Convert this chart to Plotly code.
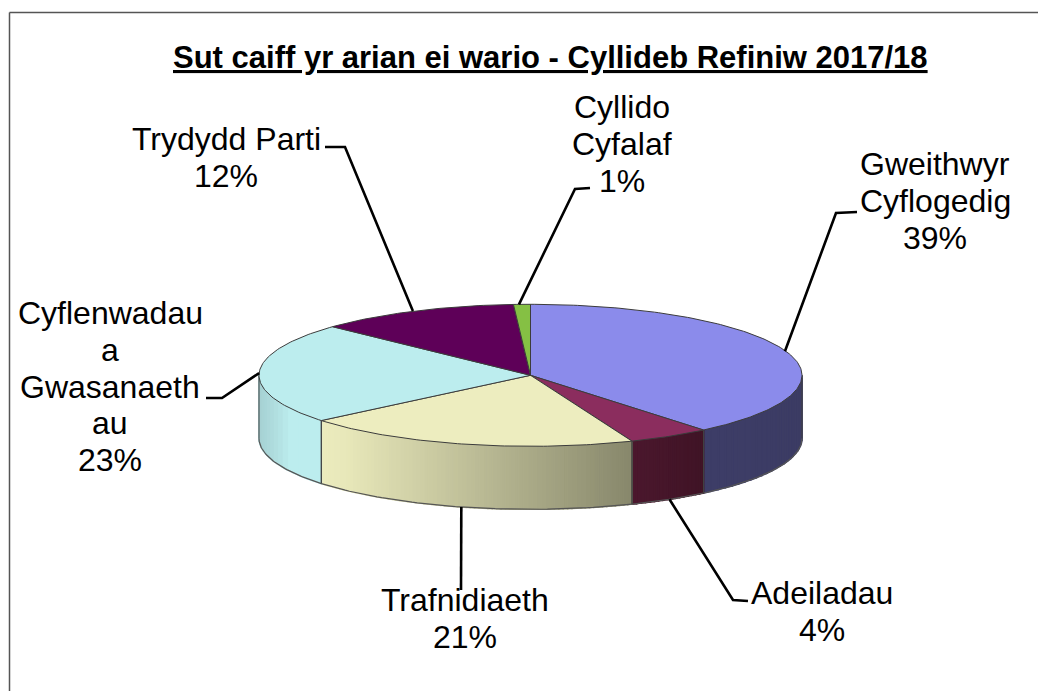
import numpy as np
import plotly.graph_objects as go

# ---- data ----
categories = [["Gweithwyr", "Cyflogedig"], ["Adeiladau"], ["Trafnidiaeth"],
              ["Cyflenwadau", "a", "Gwasanaeth", "au"], ["Trydydd Parti"], ["Cyllido", "Cyfalaf"]]
labels_pct = ["39%", "4%", "21%", "23%", "12%", "1%"]
slice_shares = [39.0, 4.9, 20.1, 23.0, 12.0, 1.0]
title_text = "Sut caiff yr arian ei wario - Cyllideb Refiniw 2017/18"

# ---- styling ----
top_colors = ["#8B8BEB", "#8B2D5E", "#EDEDBF", "#BCEDEE", "#5E0058", "#85C044"]
# side gradient stops: (pixel x, colour)
side_stops = [
    [(703, (62, 62, 104)), (801, (60, 60, 100))],
    [(631, (76, 24, 46)), (703, (64, 20, 38))],
    [(320, (236, 236, 190)), (345, (232, 232, 186)), (631, (136, 136, 108))],
    [(258, (165, 208, 210)), (290, (188, 237, 238)), (320, (188, 237, 238))],
]
CX, CY, RX, RY, DEPTH = 530.5, 375.3, 271.5, 71.0, 63.0
FONT = "Liberation Sans"
LABEL_SIZE = 32
LINE_STEP = 36.8
# label centre x, first line centre y; leader elbow points
label_pos = [(935, 164), (822, 593), (465, 600), (110, 313), (226, 139), (622, 107)]
leader_mid = [[(836, 213), (857, 212)], [(733, 600), (748, 601)], [(461, 590)],
              [(222, 398), (206, 398)], [(345, 147), (325, 147)], [(575, 189), (590, 188)]]
leader_start_dx = [-1, 0, -2.5, 0, -2, -3]


def pt(deg, dy=0.0):
    a = np.radians(deg)
    return CX + RX * np.sin(a), CY - RY * np.cos(a) + dy


def grad(stops, x):
    xs = [s[0] for s in stops]
    return "rgb(%d,%d,%d)" % tuple(np.interp(x, xs, [s[1][i] for s in stops]) for i in range(3))


fig = go.Figure()
total = sum(slice_shares)
edges = np.cumsum([0] + slice_shares) / total * 360


def poly(xs, ys, fill=None, line="#404040", width=1.0):
    fig.add_trace(go.Scatter(
        x=xs, y=ys, mode="lines", hoverinfo="skip", showlegend=False,
        fill="toself" if fill else None, fillcolor=fill,
        line=dict(color=line, width=width)))


# sides (only the front half of the rim is visible)
for i, stops in enumerate(side_stops):
    a0, a1 = max(edges[i], 90), min(edges[i + 1], 270)
    steps = max(2, int(abs(pt(a1)[0] - pt(a0)[0]) / 4))
    grid = np.linspace(a0, a1, steps + 1)
    for s, e in zip(grid[:-1], grid[1:]):
        arc = np.linspace(s, e, 4)
        tx, ty = pt(arc)
        bx, by = pt(arc[::-1], DEPTH)
        c = grad(stops, (tx[0] + tx[-1]) / 2)
        poly(list(tx) + list(bx) + [tx[0]], list(ty) + list(by) + [ty[0]], fill=c, line=c, width=1.6)

# outlines of the side panels
for i in range(len(side_stops)):
    a0, a1 = max(edges[i], 90), min(edges[i + 1], 270)
    arc = np.linspace(a0, a1, 60)
    bx, by = pt(arc, DEPTH)
    poly(list(bx), list(by), line="#555555", width=1.2)
    for a in (a0, a1):
        x0, y0 = pt(a)
        x1, y1 = pt(a, DEPTH)
        poly([x0, x1], [y0, y1], line="#404040", width=1.0)

# top slices
for i, c in enumerate(top_colors):
    arc = np.linspace(edges[i], edges[i + 1], max(6, int(slice_shares[i] * 4)))
    ax, ay = pt(arc)
    poly([CX] + list(ax) + [CX], [CY] + list(ay) + [CY], fill=c, line="#3c3c3c", width=1.0)

# leader lines
for i in range(len(categories)):
    mid = (edges[i] + edges[i + 1]) / 2
    sx, sy = pt(mid, DEPTH if 100 < mid < 260 else 0)
    path = [(sx + leader_start_dx[i], sy)] + leader_mid[i]
    poly([p[0] for p in path], [p[1] for p in path], line="#000000", width=2.6)

# labels, one annotation per line so the line spacing can follow the reference
for i, (lines, pct) in enumerate(zip(categories, labels_pct)):
    x, y = label_pos[i]
    for k, text in enumerate(lines + [pct]):
        fig.add_annotation(x=x, y=y + k * LINE_STEP, text=text, showarrow=False,
                           xanchor="center", yanchor="middle",
                           font=dict(family=FONT, size=LABEL_SIZE, color="#000000"))

fig.add_annotation(x=550.5, y=57, text="<b>" + title_text + "</b>", showarrow=False,
                   font=dict(family=FONT, size=31, color="#000000", lineposition="under"))

# chart frame
fig.add_shape(type="line", x0=9.5, x1=9.5, y0=12.5, y1=691, line=dict(color="#555555", width=1.5))
fig.add_shape(type="line", x0=9.5, x1=1038, y0=12.5, y1=12.5, line=dict(color="#555555", width=1.5))

fig.update_layout(
    width=1038, height=691, margin=dict(l=0, r=0, t=0, b=0),
    paper_bgcolor="white", plot_bgcolor="white", showlegend=False,
    xaxis=dict(range=[0, 1038], visible=False, fixedrange=True),
    yaxis=dict(range=[691, 0], visible=False, fixedrange=True),
)
fig.write_html("out.html", config={"displayModeBar": False},
               post_script="document.body.style.margin='0';document.documentElement.style.overflow='hidden';")
